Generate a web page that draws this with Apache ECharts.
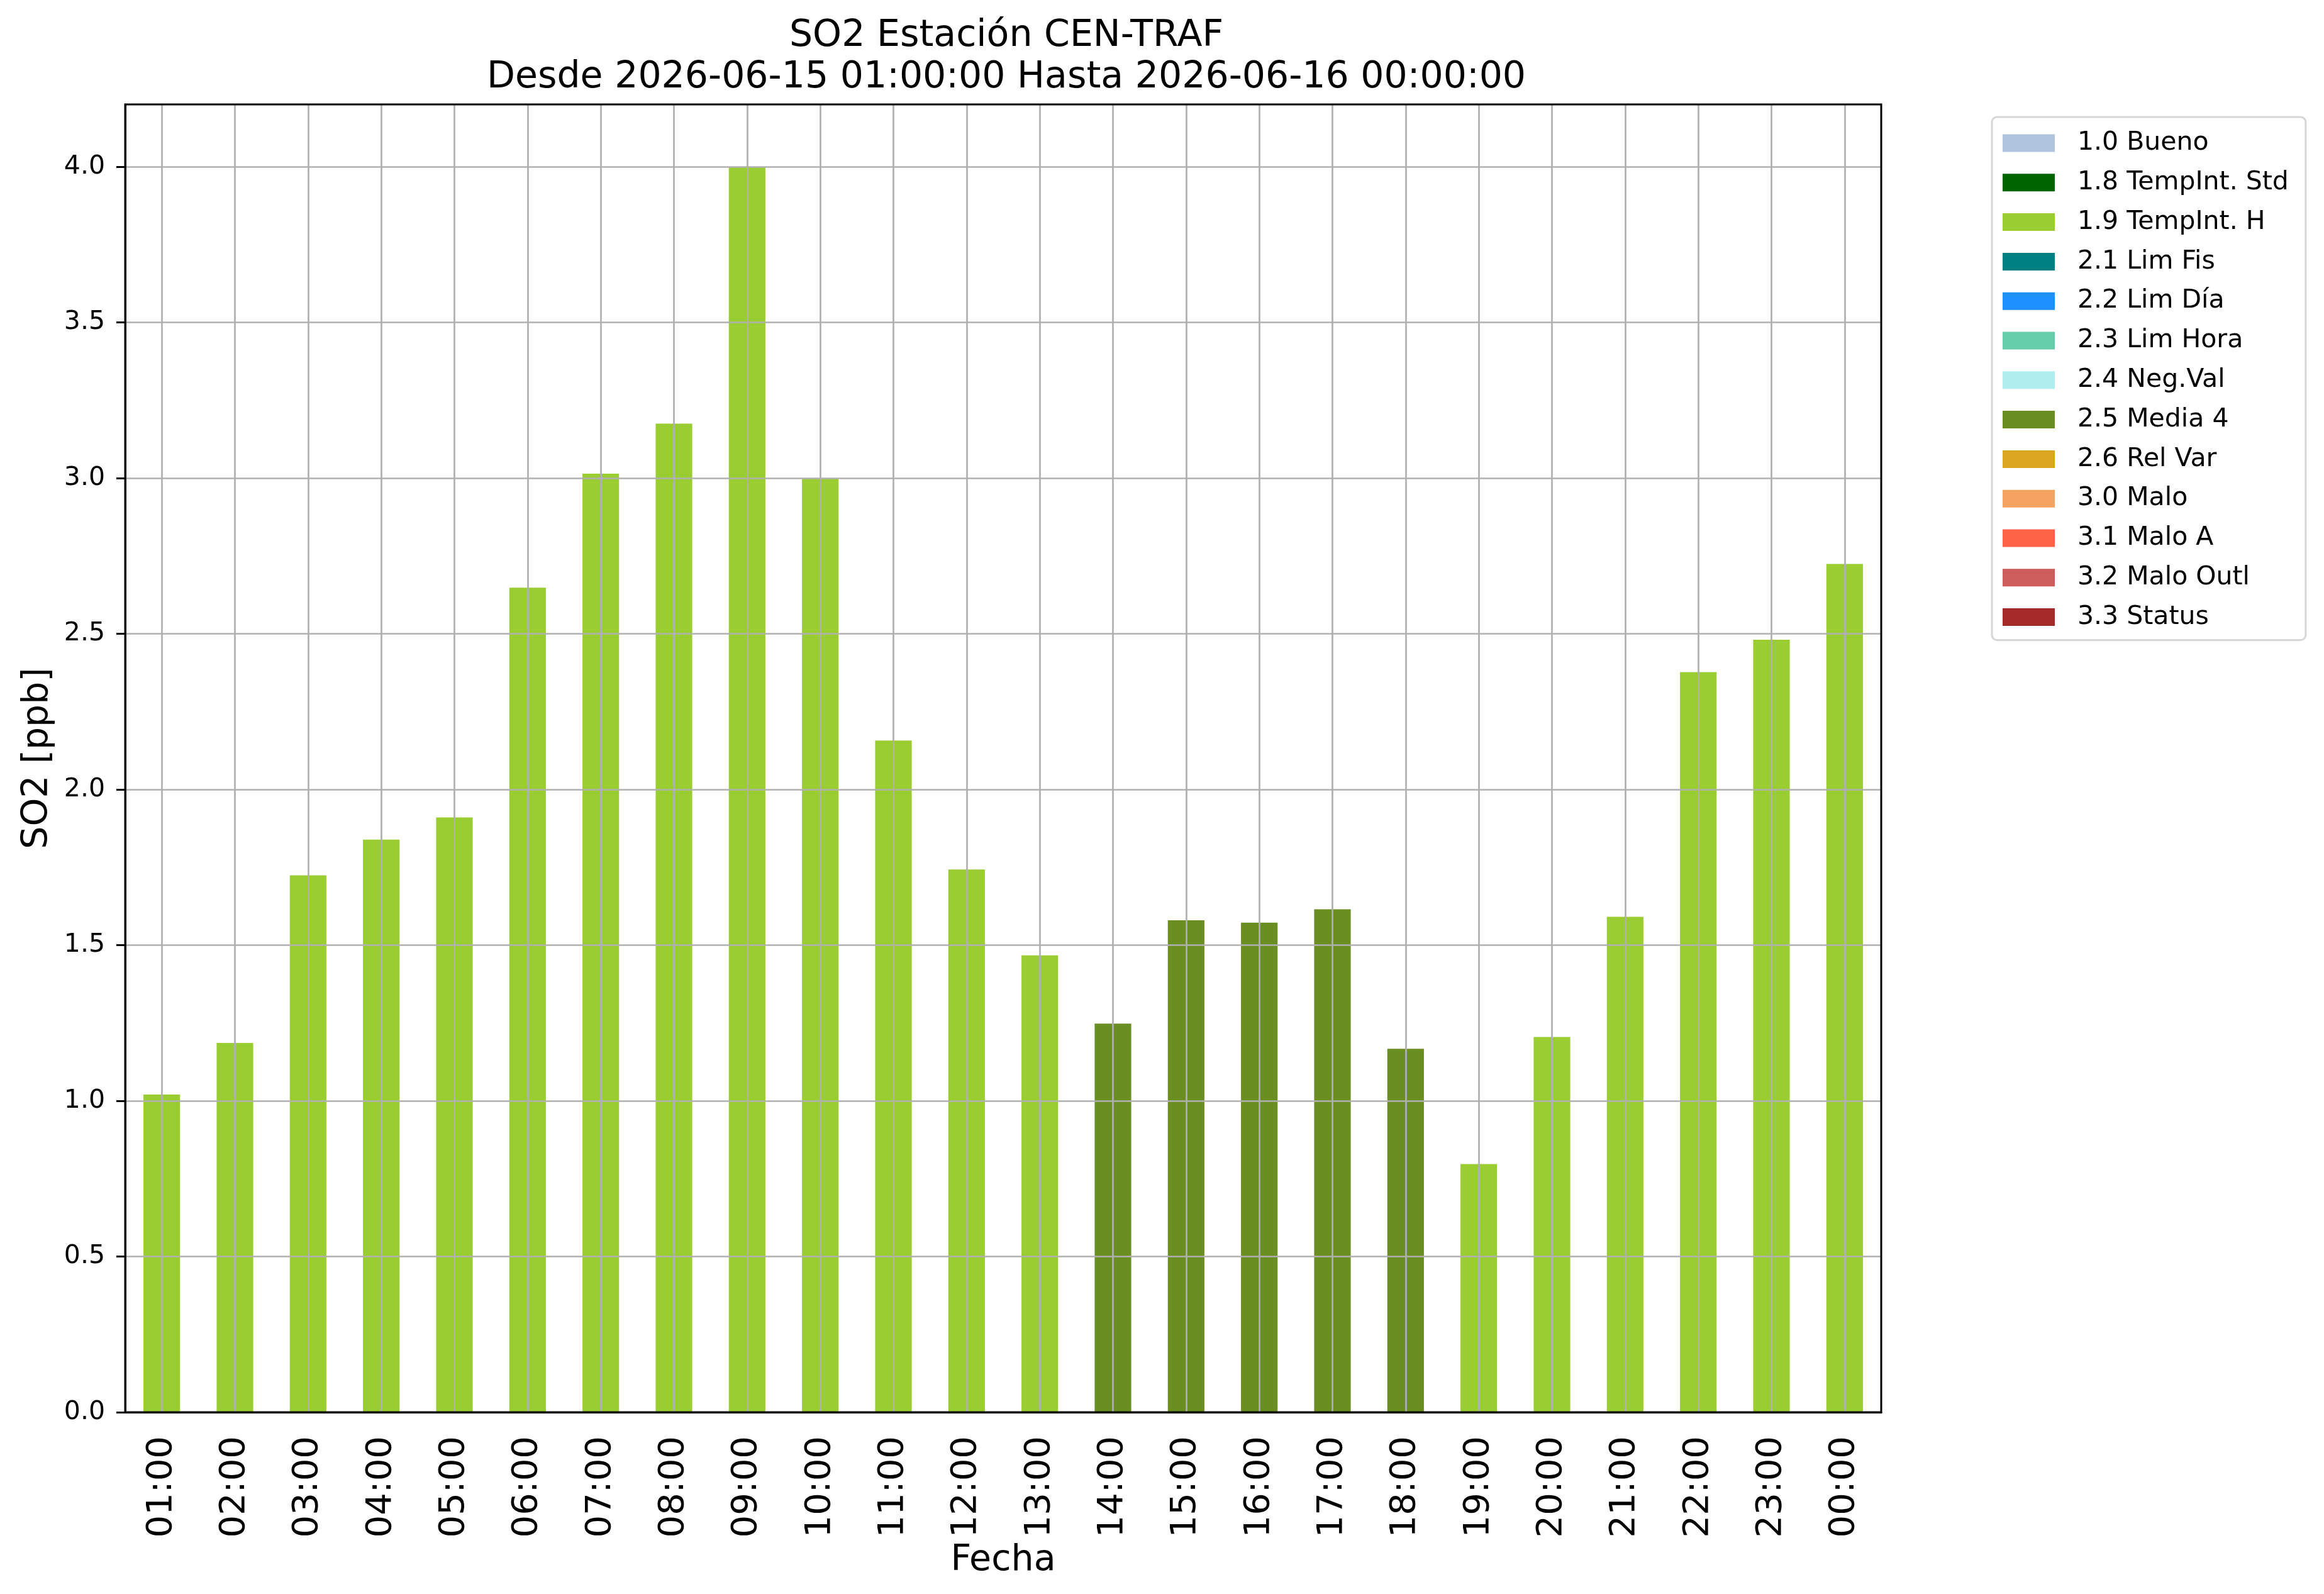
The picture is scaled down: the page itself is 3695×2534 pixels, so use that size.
<!DOCTYPE html>
<html>
<head>
    <meta charset="utf-8">
    <script src="https://cdn.jsdelivr.net/npm/echarts@6/dist/echarts.min.js"></script>
    <style>
        html, body { margin: 0; padding: 0; background: #fff; }
    </style>
</head>
<body>
    <div id="main" style="width:3695px;height:2534px;"></div>
    <script type="text/javascript">
        // horas del día
        var hours = ['01:00', '02:00', '03:00', '04:00', '05:00', '06:00', '07:00', '08:00',
            '09:00', '10:00', '11:00', '12:00', '13:00', '14:00', '15:00', '16:00',
            '17:00', '18:00', '19:00', '20:00', '21:00', '22:00', '23:00', '00:00'];
        // SO2 [ppb] por hora
        var so2 = [1.02, 1.186, 1.724, 1.839, 1.91, 2.648, 3.014, 3.175,
            4.0, 3.0, 2.157, 1.743, 1.467, 1.248, 1.58, 1.572,
            1.615, 1.167, 0.797, 1.205, 1.591, 2.377, 2.481, 2.724];
        // flag de validación de cada hora
        var hourFlag = ['1.9', '1.9', '1.9', '1.9', '1.9', '1.9', '1.9', '1.9',
            '1.9', '1.9', '1.9', '1.9', '1.9', '2.5', '2.5', '2.5',
            '2.5', '2.5', '1.9', '1.9', '1.9', '1.9', '1.9', '1.9'];

        var flagCodes = ['1.0', '1.8', '1.9', '2.1', '2.2', '2.3', '2.4', '2.5', '2.6', '3.0', '3.1', '3.2', '3.3'];
        var flagNames = ['1.0 Bueno', '1.8 TempInt. Std', '1.9 TempInt. H', '2.1 Lim Fis', '2.2 Lim Día',
            '2.3 Lim Hora', '2.4 Neg.Val', '2.5 Media 4', '2.6 Rel Var', '3.0 Malo', '3.1 Malo A',
            '3.2 Malo Outl', '3.3 Status'];
        var flagColors = ['#B0C4DE', '#006400', '#9ACD32', '#008080', '#1E90FF', '#66CDAA', '#AFEEEE',
            '#6B8E23', '#DAA520', '#F4A460', '#FF6347', '#CD5C5C', '#A52A2A'];

        var yTicks = [0, 0.5, 1.0, 1.5, 2.0, 2.5, 3.0, 3.5, 4.0];

        var font = 'DejaVu Sans';
        var myChart = echarts.init(document.getElementById('main'));

        var series = [];
        for (var k = 0; k < flagCodes.length; k++) {
            var d = [];
            for (var i = 0; i < hours.length; i++) {
                d.push(hourFlag[i] === flagCodes[k] ? so2[i] : '-');
            }
            series.push({
                name: flagNames[k],
                type: 'bar',
                stack: 'so2',
                barWidth: '50%',
                itemStyle: { color: flagColors[k] },
                emphasis: { disabled: true },
                data: d
            });
        }

        var option = {
            animation: false,
            backgroundColor: '#fff',
            textStyle: { fontFamily: font },
            title: {
                text: 'SO2 Estación CEN-TRAF\nDesde 2026-06-15 01:00:00 Hasta 2026-06-16 00:00:00',
                left: 1595,
                top: 20,
                textAlign: 'center',
                textStyle: {
                    fontFamily: font,
                    fontWeight: 'normal',
                    fontSize: 58.5,
                    lineHeight: 66,
                    color: '#000'
                }
            },
            legend: {
                orient: 'vertical',
                left: 3167,
                top: 186,
                padding: [21, 27, 16, 17],
                itemWidth: 83,
                itemHeight: 28,
                itemGap: 21.8,
                icon: 'rect',
                selectedMode: false,
                backgroundColor: '#fff',
                borderColor: '#d6d6d6',
                borderWidth: 3,
                borderRadius: 8,
                textStyle: {
                    fontFamily: font,
                    fontSize: 41,
                    lineHeight: 28,
                    color: '#000',
                    padding: [0, 0, 0, 31]
                },
                data: flagNames
            },
            grid: {
                left: 199,
                right: 704,
                top: 166,
                bottom: 289,
                show: true,
                z: 10,
                backgroundColor: 'transparent',
                borderColor: '#000',
                borderWidth: 3
            },
            xAxis: {
                type: 'category',
                data: hours,
                boundaryGap: true,
                z: 5,
                name: 'Fecha',
                nameLocation: 'middle',
                nameGap: 195,
                nameTextStyle: { fontFamily: font, fontSize: 57, color: '#000' },
                axisLine: { lineStyle: { color: '#000', width: 3 } },
                axisTick: { alignWithLabel: true, interval: 0, length: 14, lineStyle: { color: '#000', width: 3 } },
                axisLabel: { interval: 0, rotate: 90, margin: 38, fontFamily: font, fontSize: 56, color: '#000' },
                splitLine: { show: true, alignWithLabel: true, interval: 0, lineStyle: { color: '#b0b0b0', width: 2.7 } }
            },
            yAxis: {
                type: 'value',
                min: 0,
                max: 4.2,
                interval: 0.5,
                z: 5,
                name: 'SO2 [ppb]',
                nameLocation: 'middle',
                nameGap: 110,
                nameTextStyle: { fontFamily: font, fontSize: 57, color: '#000' },
                axisLine: { show: true, lineStyle: { color: '#000', width: 3 } },
                axisTick: { show: true, length: 14, customValues: yTicks, lineStyle: { color: '#000', width: 3 } },
                axisLabel: {
                    margin: 32,
                    fontFamily: font,
                    fontSize: 41,
                    color: '#000',
                    customValues: yTicks,
                    formatter: function (v) { return v.toFixed(1); }
                },
                splitLine: { show: true, lineStyle: { color: '#b0b0b0', width: 2.7 } }
            },
            series: series
        };
        myChart.setOption(option);
    </script>
</body>
</html>
